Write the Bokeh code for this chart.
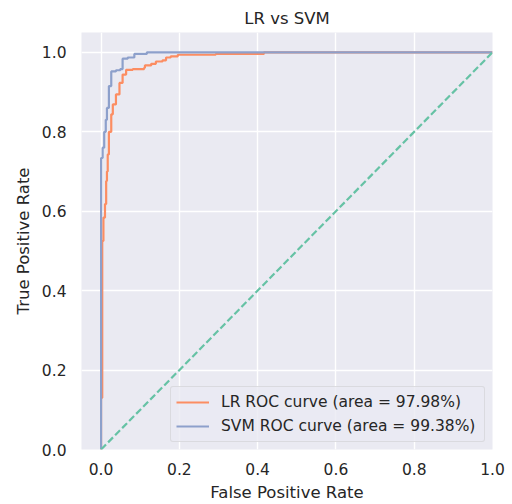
from bokeh.plotting import figure
from bokeh.models import Range1d, FixedTicker, Legend, LegendItem, NumeralTickFormatter
from bokeh.embed import file_html
from bokeh.resources import INLINE

# ROC curve data
lr_fpr = [0, 0, 0.003, 0.003, 0.006, 0.006, 0.010, 0.010, 0.013, 0.013, 0.015, 0.015,
          0.017, 0.017, 0.020, 0.020, 0.026, 0.026, 0.030, 0.030, 0.038, 0.038, 0.047, 0.047,
          0.055, 0.055, 0.064, 0.064, 0.081, 0.081, 0.110, 0.110, 0.112, 0.112, 0.128, 0.128,
          0.140, 0.140, 0.157, 0.157, 0.166, 0.166, 0.178, 0.178, 0.196, 0.196, 0.293, 0.293,
          0.416, 0.416, 1.0]
lr_tpr = [0, 0.13, 0.13, 0.525, 0.525, 0.584, 0.584, 0.618, 0.618, 0.676, 0.676, 0.70,
          0.70, 0.743, 0.743, 0.80, 0.80, 0.844, 0.844, 0.869, 0.869, 0.894, 0.894, 0.923,
          0.923, 0.944, 0.944, 0.956, 0.956, 0.958, 0.958, 0.961, 0.961, 0.967, 0.967, 0.971,
          0.971, 0.977, 0.977, 0.980, 0.980, 0.987, 0.987, 0.990, 0.990, 0.994, 0.994, 0.996,
          0.996, 1.0, 1.0]

svm_fpr = [0, 0, 0.004, 0.004, 0.008, 0.008, 0.012, 0.012, 0.015, 0.015, 0.020, 0.020,
           0.026, 0.026, 0.038, 0.038, 0.049, 0.049, 0.055, 0.055, 0.068, 0.068, 0.085, 0.085,
           0.117, 0.117, 1.0]
svm_tpr = [0, 0.734, 0.734, 0.76, 0.76, 0.80, 0.80, 0.83, 0.83, 0.86, 0.86, 0.915,
           0.915, 0.952, 0.952, 0.955, 0.955, 0.958, 0.958, 0.984, 0.984, 0.987, 0.987, 0.996,
           0.996, 1.0, 1.0]

diag_x = [0, 1]
diag_y = [0, 1]

lr_label = "LR ROC curve (area = 97.98%)"
svm_label = "SVM ROC curve (area = 99.38%)"
x_ticks = [0.0, 0.2, 0.4, 0.6, 0.8, 1.0]
y_ticks = [0.0, 0.2, 0.4, 0.6, 0.8, 1.0]

TEXT = "#262626"
FONT = "DejaVu Sans"

p = figure(width=512, height=504, output_backend="svg", toolbar_location=None,
           x_range=Range1d(-0.05, 1.0), y_range=Range1d(0.0, 1.05),
           min_border_left=81, min_border_right=20, min_border_top=32, min_border_bottom=55,
           title="LR vs SVM")

p.background_fill_color = "#eaeaf2"
p.border_fill_color = "white"
p.outline_line_color = None

p.title.align = "center"
p.title.text_font = FONT
p.title.text_font_size = "16.5px"
p.title.text_font_style = "normal"
p.title.text_color = TEXT
p.title.standoff = 10

for ax in (p.xaxis[0], p.yaxis[0]):
    ax.axis_line_color = None
    ax.major_tick_line_color = None
    ax.minor_tick_line_color = None
    ax.major_tick_out = 0
    ax.major_tick_in = 0
    ax.minor_tick_out = 0
    ax.minor_tick_in = 0
    ax.major_label_text_font = FONT
    ax.major_label_text_font_size = "15.5px"
    ax.major_label_text_color = TEXT
    ax.axis_label_text_font = FONT
    ax.axis_label_text_font_size = "16.5px"
    ax.axis_label_text_font_style = "normal"
    ax.axis_label_text_color = TEXT
    ax.formatter = NumeralTickFormatter(format="0.0")

p.xaxis.axis_label = "False Positive Rate"
p.yaxis.axis_label = "True Positive Rate"
p.xaxis.ticker = FixedTicker(ticks=x_ticks)
p.yaxis.ticker = FixedTicker(ticks=y_ticks)
p.xaxis.major_label_standoff = 13
p.yaxis.major_label_standoff = 15
p.xaxis.axis_label_standoff = 5
p.yaxis.axis_label_standoff = 6

p.grid.grid_line_color = "white"
p.grid.grid_line_width = 1.4

r_lr = p.line(lr_fpr, lr_tpr, line_color="#fc8d62", line_width=2.2)
r_svm = p.line(svm_fpr, svm_tpr, line_color="#8da0cb", line_width=2.2)
p.line(diag_x, diag_y, line_color="#66c2a5", line_width=2.2, line_dash="7 3")

legend = Legend(items=[LegendItem(label=lr_label, renderers=[r_lr]),
                       LegendItem(label=svm_label, renderers=[r_svm])],
                location="bottom_right")
legend.margin = 7
legend.padding = 5
legend.spacing = 4
legend.glyph_width = 33
legend.glyph_height = 20
legend.label_height = 20
legend.label_width = 258
legend.label_standoff = 12
legend.label_text_font = FONT
legend.label_text_font_size = "15.5px"
legend.label_text_color = TEXT
legend.background_fill_color = "#eaeaf2"
legend.background_fill_alpha = 0.8
legend.border_line_color = "#cccccc"
legend.border_line_width = 1
legend.border_radius = 3
p.add_layout(legend)

open("out.html", "w").write(file_html(p, INLINE))
